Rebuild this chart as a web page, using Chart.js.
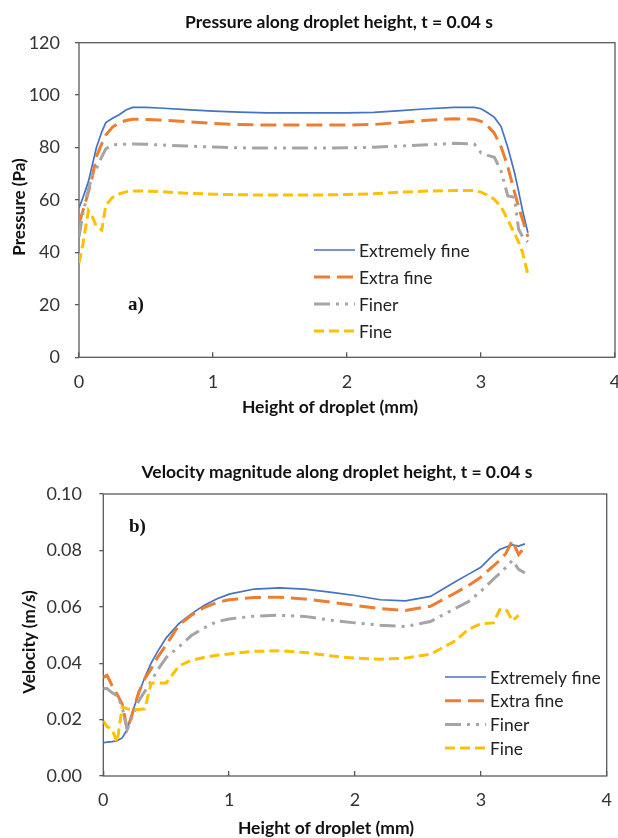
<!DOCTYPE html>
<html lang="en">
<head>
  <meta charset="UTF-8">
  <title>Pressure and velocity along droplet height</title>
  <script src="https://cdn.jsdelivr.net/npm/chart.js"></script>
  <style>
    body { margin: 0; background: #fff; }
    canvas { position: absolute; left: 0; }
    #pressure { top: 0; }
    #velocity { top: 420px; }
  </style>
</head>
<body>
  <canvas id="pressure" width="618" height="420"></canvas>
  <canvas id="velocity" width="618" height="418"></canvas>
  <script>
    const seriesNames = ['Extremely fine', 'Extra fine', 'Finer', 'Fine'];

    // a) pressure (Pa) vs height of droplet (mm)
    const heightA = [0, 0.03, 0.07, 0.1, 0.13, 0.17, 0.2, 0.25, 0.3, 0.35, 0.4, 0.5, 0.6, 0.8, 1.0, 1.2, 1.4,
      1.6, 1.8, 2.0, 2.2, 2.4, 2.6, 2.8, 2.95, 3.0, 3.05, 3.1, 3.15, 3.2, 3.25, 3.28, 3.31, 3.35];
    const pExtremelyFine = [57, 61, 67, 73.5, 80, 86, 89.5, 91.2, 92.5, 94.3, 95.3, 95.3, 95.1, 94.5, 93.9, 93.5, 93.2,
      93.2, 93.2, 93.2, 93.4, 94.1, 94.8, 95.3, 95.3, 94.8, 93.3, 91.5, 88, 80, 70.5, 63.5, 56, 47.5];
    const pExtraFine = [51, 56, 63, 69, 76.5, 81.5, 84.8, 87.8, 89.5, 90.3, 90.8, 90.7, 90.5, 89.9, 89.2, 88.8, 88.6,
      88.6, 88.6, 88.6, 88.8, 89.6, 90.4, 91, 90.8, 90, 88.3, 85.4, 80.3, 72.7, 63, 57.5, 52.5, 46];
    const pFiner = [46, 55, 64, 69.5, 72, 76.5, 79.5, 81, 81.2, 81.3, 81.4, 81.3, 81, 80.6, 80.2, 79.9, 79.8,
      79.8, 79.8, 79.9, 80.1, 80.6, 81.1, 81.6, 81.4, 78, 77, 76.3, 71, 61.5, 61, 49, 46, 44];
    const pFine = [36, 43.5, 56, 53.5, 50, 48.5, 58, 61, 62.3, 63.1, 63.4, 63.4, 63.2, 62.6, 62.2, 62, 61.9,
      61.9, 61.9, 62.1, 62.4, 63, 63.4, 63.6, 63.6, 63, 61.8, 60.2, 57.4, 52.4, 47.3, 44, 40, 31.5];

    // b) velocity magnitude (m/s) vs height of droplet (mm)
    const heightB = [0, 0.03, 0.07, 0.11, 0.15, 0.19, 0.23, 0.28, 0.33, 0.38, 0.43, 0.5, 0.6, 0.7, 0.8, 0.9, 1.0,
      1.2, 1.4, 1.6, 1.8, 2.0, 2.2, 2.4, 2.6, 2.8, 2.9, 3.0, 3.1, 3.15, 3.2, 3.25, 3.3, 3.35];
    const vExtremelyFine = [0.0118, 0.012, 0.0122, 0.0125, 0.0135, 0.0165, 0.0225, 0.029, 0.035, 0.04, 0.044, 0.049,
      0.054, 0.0575, 0.0605, 0.0628, 0.0645, 0.0663, 0.0667, 0.0663, 0.0652, 0.064, 0.0625, 0.0621, 0.0637, 0.069,
      0.0715, 0.074, 0.0785, 0.0803, 0.0812, 0.082, 0.0815, 0.0823];
    const vExtraFine = [0.035, 0.0357, 0.032, 0.029, 0.0255, 0.0165, 0.022, 0.0295, 0.0345, 0.038, 0.042, 0.0465,
      0.0535, 0.057, 0.0597, 0.0615, 0.0625, 0.0633, 0.0634, 0.0628, 0.0617, 0.0605, 0.0594, 0.0587, 0.0602, 0.065,
      0.0675, 0.0705, 0.0745, 0.0765, 0.079, 0.0835, 0.0785, 0.0813];
    const vFiner = [0.031, 0.031, 0.0295, 0.0285, 0.0245, 0.0165, 0.021, 0.0265, 0.03, 0.0335, 0.0375, 0.042,
      0.0458, 0.0498, 0.0525, 0.0547, 0.0557, 0.0567, 0.057, 0.0566, 0.0553, 0.0543, 0.0535, 0.053, 0.0548, 0.0595,
      0.0618, 0.0655, 0.0698, 0.0718, 0.074, 0.0765, 0.0733, 0.072];
    const vFine = [0.0195, 0.0175, 0.0165, 0.012, 0.0245, 0.0238, 0.0236, 0.0236, 0.0238, 0.0329, 0.033, 0.033,
      0.039, 0.041, 0.042, 0.0428, 0.0433, 0.0442, 0.0444, 0.0438, 0.0426, 0.0418, 0.0414, 0.0418, 0.0432, 0.048,
      0.052, 0.054, 0.0543, 0.059, 0.0592, 0.055, 0.057, null];

    const colors = ['#4472C4', '#ED7D31', '#A5A5A5', '#FFC000'];
    const widths = [1.7, 3, 3, 3];
    const dashes = [[], [16, 7], [16, 6, 3, 6, 3, 6], [10, 5]];

    const FONT = 'Lato, "Open Sans", sans-serif';
    const AXIS = '#595959';

    function makeSets(xs, cols) {
      return cols.map((ys, i) => ({
        label: seriesNames[i],
        data: xs.map((x, j) => ({ x: x, y: ys[j] })),
        borderColor: colors[i],
        backgroundColor: colors[i],
        borderWidth: widths[i],
        borderDash: dashes[i],
        pointRadius: 0,
        tension: 0,
        fill: false
      })).reverse();
    }

    const decor = {
      id: 'decor',
      beforeDatasetsDraw(chart) {
        const a = chart.chartArea, ctx = chart.ctx;
        ctx.save();
        ctx.strokeStyle = AXIS;
        ctx.lineWidth = 1.3;
        ctx.strokeRect(a.left, a.top, a.right - a.left, a.bottom - a.top);
        ctx.restore();
      },
      afterDraw(chart, args, o) {
        const ctx = chart.ctx;
        ctx.save();
        ctx.fillStyle = '#111';
        ctx.textBaseline = 'middle';
        ctx.textAlign = 'center';
        ctx.font = 'bold 17.5px ' + FONT;
        ctx.fillText(o.title, o.titlePos[0], o.titlePos[1]);
        ctx.font = 'bold 17.5px ' + FONT;
        ctx.fillText(o.xTitle, o.xTitlePos[0], o.xTitlePos[1]);
        ctx.save();
        ctx.translate(o.yTitlePos[0], o.yTitlePos[1]);
        ctx.rotate(-Math.PI / 2);
        ctx.font = 'bold 17px ' + FONT;
        ctx.fillText(o.yTitle, 0, 0);
        ctx.restore();

        ctx.textAlign = 'left';
        ctx.font = 'bold 19px "Liberation Serif", serif';
        ctx.fillText(o.panel, o.panelPos[0], o.panelPos[1]);

        // legend in original order
        ctx.font = '17.5px ' + FONT;
        const ds = chart.data.datasets.slice().reverse();
        ds.forEach((d, i) => {
          const y = o.legend.y + i * o.legend.dy;
          ctx.save();
          ctx.strokeStyle = d.borderColor;
          ctx.lineWidth = d.borderWidth;
          ctx.setLineDash(d.borderDash);
          ctx.beginPath();
          ctx.moveTo(o.legend.x, y);
          ctx.lineTo(o.legend.x + 41, y);
          ctx.stroke();
          ctx.restore();
          ctx.fillStyle = '#222';
          ctx.fillText(d.label, o.legend.x + 45, y + 1);
        });
        ctx.restore();
      }
    };

    function makeChart(id, sets, yMax, yStep, yFmt, geo, deco) {
      return new Chart(document.getElementById(id), {
        type: 'line',
        data: { datasets: sets },
        plugins: [decor],
        options: {
          responsive: false,
          animation: false,
          layout: { padding: { top: geo.top, right: geo.right, bottom: 0, left: 0 } },
          plugins: {
            legend: { display: false },
            title: { display: false },
            tooltip: { enabled: false },
            decor: deco
          },
          scales: {
            x: {
              type: 'linear',
              min: 0,
              max: 4,
              border: { display: false },
              grid: { drawOnChartArea: false, drawTicks: true, tickLength: -5, color: AXIS, lineWidth: 1.3 },
              ticks: { stepSize: 1, padding: geo.xPad, color: '#333', font: { family: FONT, size: 18 } },
              afterFit: s => { s.height = geo.xH; s.paddingLeft = 0; s.paddingRight = 0; }
            },
            y: {
              min: 0,
              max: yMax,
              border: { display: false },
              grid: { drawOnChartArea: false, drawTicks: true, tickLength: 4, color: AXIS, lineWidth: 1.3 },
              ticks: { stepSize: yStep, padding: geo.yPad, color: '#333', font: { family: FONT, size: 18 },
                callback: yFmt },
              afterFit: s => { s.width = geo.yW; s.paddingTop = 0; s.paddingBottom = 0; }
            }
          }
        }
      });
    }

    makeChart('pressure', makeSets(heightA, [pExtremelyFine, pExtraFine, pFiner, pFine]),
      120, 20, v => v,
      { top: 42.7, right: 3, yW: 79, xH: 62.7, xPad: 19, yPad: 15 },
      {
        title: 'Pressure along droplet height, t = 0.04 s', titlePos: [339, 22],
        xTitle: 'Height of droplet (mm)', xTitlePos: [330, 407],
        yTitle: 'Pressure (Pa)', yTitlePos: [20, 207],
        panel: 'a)', panelPos: [128, 305],
        legend: { x: 314, y: 250, dy: 27 }
      });

    makeChart('velocity', makeSets(heightB, [vExtremelyFine, vExtraFine, vFiner, vFine]),
      0.1, 0.02, v => v.toFixed(2),
      { top: 74, right: 11.3, yW: 103.3, xH: 62, xPad: 18.2, yPad: 17.3 },
      {
        title: 'Velocity magnitude along droplet height, t = 0.04 s', titlePos: [337, 52],
        xTitle: 'Height of droplet (mm)', xTitlePos: [326, 408],
        yTitle: 'Velocity (m/s)', yTitlePos: [30, 222],
        panel: 'b)', panelPos: [129, 107],
        legend: { x: 445, y: 257, dy: 23.7 }
      });
  </script>
</body>
</html>
